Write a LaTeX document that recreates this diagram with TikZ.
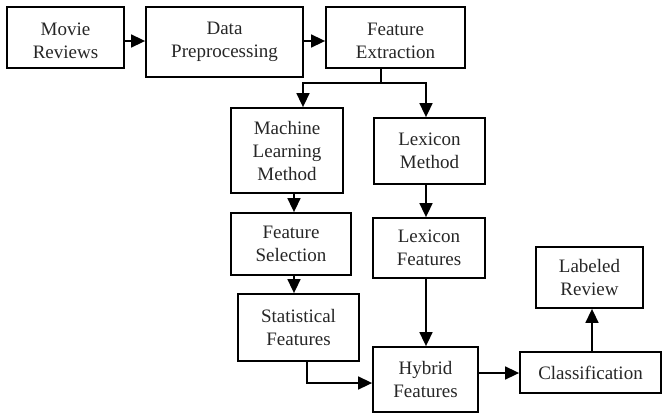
\documentclass[tikz,border=0pt]{standalone}
\usepackage{fontspec}
\setmainfont{Liberation Serif}
\usetikzlibrary{arrows.meta}
\begin{document}
\begin{tikzpicture}[x=1pt,y=-1pt,
  txt/.style={inner sep=0pt,align=center,font=\fontsize{19}{23}\selectfont,text=black!85},
  box/.style={txt,draw=black,line width=1.8pt,rectangle},
  line/.style={draw=black,line width=1.6pt},
  arr/.style={line,-{Triangle[length=14pt,width=13pt]}}]
\useasboundingbox (0,0) rectangle (662,413);
\node[box,minimum width=117pt,minimum height=61pt] (mr) at (65.5,37.5) {};
\node[txt] (mrt) at ([yshift=-3pt]mr.center) {Movie\\Reviews};
\node[box,minimum width=157pt,minimum height=70pt] (dp) at (224.5,42) {Data\\Preprocessing};
\node[box,minimum width=139pt,minimum height=61pt] (fe) at (395.5,37.5) {};
\node[txt] (fet) at ([yshift=-3pt]fe.center) {Feature\\Extraction};
\node[box,minimum width=112pt,minimum height=85pt] (ml) at (287,150.5) {Machine\\Learning\\Method};
\node[box,minimum width=111pt,minimum height=66pt] (lm) at (429.5,151) {Lexicon\\Method};
\node[box,minimum width=120pt,minimum height=62pt] (fs) at (291,244) {Feature\\Selection};
\node[box,minimum width=112pt,minimum height=60pt] (lf) at (429,248) {Lexicon\\Features};
\node[box,minimum width=121pt,minimum height=67pt] (sf) at (298.5,327.5) {Statistical\\Features};
\node[box,minimum width=105pt,minimum height=65pt] (hf) at (425.5,379.5) {Hybrid\\Features};
\node[box,minimum width=141pt,minimum height=41pt] (cl) at (590.5,372.5) {Classification};
\node[box,minimum width=107pt,minimum height=61pt] (lr) at (589.5,277.5) {Labeled\\Review};
\coordinate (sp) at (381,83);
\draw[arr] ([yshift=-3.5pt]mr.east) -- ([yshift=-3.5pt]mr.east -| dp.west);
\draw[arr] ([yshift=1pt]dp.east) -- ([yshift=1pt]dp.east -| fe.west);
\draw[line] (fe.south -| sp) -- (sp);
\draw[arr] (sp) -| ([xshift=16pt]ml.north);
\draw[arr] (sp) -| ([xshift=-3.5pt]lm.north);
\draw[arr] ([xshift=7pt]ml.south) -- ([xshift=7pt]ml.south |- fs.north);
\draw[arr] ([xshift=-3.5pt]lm.south) -- ([xshift=-3.5pt]lm.south |- lf.north);
\draw[arr] ([xshift=3pt]fs.south) -- ([xshift=3pt]fs.south |- sf.north);
\draw[arr] ([xshift=-3pt]lf.south) -- ([xshift=-3pt]lf.south |- hf.north);
\draw[arr] ([xshift=8.5pt]sf.south) |- ([yshift=-3.5pt]hf.west);
\draw[arr] ([yshift=6.5pt]hf.east) -- ([yshift=6.5pt]hf.east -| cl.west);
\draw[arr] ([xshift=1.5pt]cl.north) -- ([xshift=1.5pt]cl.north |- lr.south);
\end{tikzpicture}
\end{document}
